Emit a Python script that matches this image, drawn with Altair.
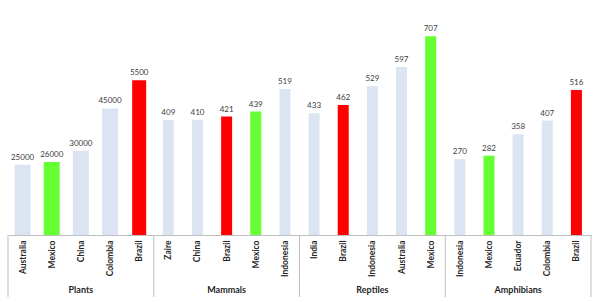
import altair as alt
import pandas as pd

groups = ["Plants", "Mammals", "Reptiles", "Amphibians"]
countries = [
    ["Australia", "Mexico", "China", "Colombia", "Brazil"],
    ["Zaire", "China", "Brazil", "Mexico", "Indonesia"],
    ["India", "Brazil", "Indonesia", "Australia", "Mexico"],
    ["Indonesia", "Mexico", "Ecuador", "Colombia", "Brazil"],
]
# bar heights as drawn (plants drawn in hundreds of species)
values = [
    [250, 260, 300, 450, 550],
    [409, 410, 421, 439, 519],
    [433, 462, 529, 597, 707],
    [270, 282, 358, 407, 516],
]
labels = [
    ["25000", "26000", "30000", "45000", "5500"],
    ["409", "410", "421", "439", "519"],
    ["433", "462", "529", "597", "707"],
    ["270", "282", "358", "407", "516"],
]

rows = []
keys = []
for g, cs, vs, ls in zip(groups, countries, values, labels):
    for i, (c, v, l) in enumerate(zip(cs, vs, ls)):
        k = f"{g}|{c}"
        keys.append(k)
        hl = c if c in ("Mexico", "Brazil") else "other"
        rows.append({"key": k, "group": g, "country": c, "value": v,
                     "label": l, "idx": i, "hl": hl})
df = pd.DataFrame(rows)

W, H = 583, 225
xscale = alt.Scale(domain=keys, paddingInner=0, paddingOuter=0)
yscale = alt.Scale(domain=[0, 800])

base = alt.Chart(df)

bars = base.mark_bar().encode(
    x=alt.X("key:N", scale=xscale, title=None,
            axis=alt.Axis(labelExpr="split(datum.label, '|')[1]",
                          labelAngle=270, labelAlign="right",
                          labelBaseline="middle", labelFontWeight="bold",
                          labelFontSize=8.5, labelFont="Lato",
                          labelColor="#262626", labelPadding=5,
                          ticks=False, domainColor="#bfbfbf",
                          domainWidth=1)),
    y=alt.Y("value:Q", scale=yscale, axis=None),
    color=alt.Color("hl:N", scale=alt.Scale(domain=["other", "Mexico", "Brazil"],
                                            range=["#dbe5f1", "#66ff33", "#ff0000"]),
                    legend=None),
    size={"condition": [
        {"test": "datum.group === 'Plants' && datum.country === 'Brazil'", "value": 14},
        {"test": "datum.group === 'Plants'", "value": 16}],
        "value": 11},
)

text = base.mark_text(baseline="bottom", dy=-3, fontSize=8, font="Lato",
                      color="#404040").encode(
    x=alt.X("key:N", scale=xscale),
    y=alt.Y("value:Q", scale=yscale),
    text="label:N",
)

seps = base.transform_filter("datum.idx === 0").mark_rule(
    color="#bfbfbf", strokeWidth=1).encode(
    x=alt.X("key:N", scale=xscale, bandPosition=0),
    y=alt.value(H), y2=alt.value(H + 62),
)
sep_end = base.transform_filter("datum.idx === 4 && datum.group === 'Amphibians'").mark_rule(
    color="#bfbfbf", strokeWidth=1).encode(
    x=alt.X("key:N", scale=xscale, bandPosition=1),
    y=alt.value(H), y2=alt.value(H + 62),
)

glabels = base.transform_filter("datum.idx === 2").mark_text(
    fontSize=9, fontWeight="bold", font="Lato", color="#262626",
    baseline="middle").encode(
    x=alt.X("key:N", scale=xscale),
    y=alt.value(H + 55),
    text="group:N",
)

chart = alt.layer(bars, text, seps, sep_end, glabels).properties(
    width=W, height=H,
    autosize=alt.AutoSizeParams(type="none"),
    padding={"left": 8, "top": 10, "right": 9, "bottom": 67},
).configure_view(stroke=None)

chart.save("out.html", embed_options={"renderer": "svg", "actions": False})
